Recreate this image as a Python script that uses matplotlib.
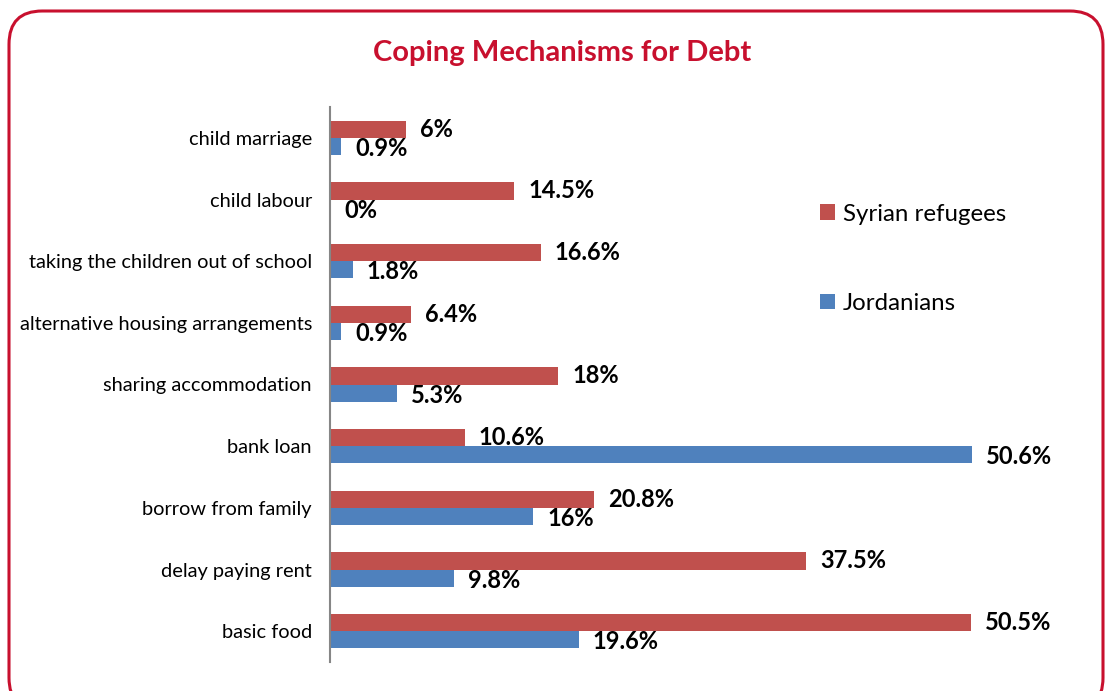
import matplotlib.pyplot as plt
from matplotlib.patches import FancyBboxPatch

plt.rcParams["font.family"] = ["Lato", "DejaVu Sans"]

CATEGORIES = [
    "child marriage",
    "child labour",
    "taking the children out of school",
    "alternative housing arrangements",
    "sharing accommodation",
    "bank loan",
    "borrow from family",
    "delay paying rent",
    "basic food",
]
SYRIAN = [6, 14.5, 16.6, 6.4, 18, 10.6, 20.8, 37.5, 50.5]
JORDANIAN = [0.9, 0, 1.8, 0.9, 5.3, 50.6, 16, 9.8, 19.6]
SYRIAN_LABELS = ["6%", "14.5%", "16.6%", "6.4%", "18%", "10.6%", "20.8%", "37.5%", "50.5%"]
JORDANIAN_LABELS = ["0.9%", "0%", "1.8%", "0.9%", "5.3%", "50.6%", "16%", "9.8%", "19.6%"]

RED = "#C0504D"
BLUE = "#4F81BD"
CRIMSON = "#C8102E"

W, H = 1108, 691
fig = plt.figure(figsize=(W / 100, H / 100), dpi=100)

# rounded frame around the whole chart (bottom runs off the image)
x0, x1 = 9 / W, 1103 / W
y0, y1 = -20 / H, 1 - 11 / H
frame = FancyBboxPatch(
    (x0, y0), x1 - x0, y1 - y0,
    boxstyle="round,pad=0,rounding_size=0.03",
    transform=fig.transFigure, facecolor="none", edgecolor=CRIMSON,
    linewidth=2.2, clip_on=False, mutation_aspect=W / H,
)
fig.patches.append(frame)

ax = fig.add_axes([330 / W, 29 / H, 670 / W, 555 / H])

bar_h = 0.28
ypos = list(range(len(CATEGORIES)))
red_y = [y - bar_h / 2 for y in ypos]
blue_y = [y + bar_h / 2 for y in ypos]

ax.barh(red_y, SYRIAN, height=bar_h, color=RED, label="Syrian refugees")
ax.barh(blue_y, JORDANIAN, height=bar_h, color=BLUE, label="Jordanians")

for y, v, lab in zip(red_y, SYRIAN, SYRIAN_LABELS):
    ax.annotate(lab, (v, y), xytext=(14, 0), textcoords="offset pixels",
                ha="left", va="center", fontsize=17, fontweight="bold")
for y, v, lab in zip(blue_y, JORDANIAN, JORDANIAN_LABELS):
    ax.annotate(lab, (v, y), xytext=(14, -2), textcoords="offset pixels",
                ha="left", va="center", fontsize=17, fontweight="bold")

ax.set_xlim(0, 670 / 12.69)
ax.set_ylim(len(CATEGORIES) - 0.5, -0.5)
ax.set_yticks(ypos)
ax.set_yticklabels(CATEGORIES, fontsize=14.4)
ax.tick_params(axis="y", length=0, pad=13)
ax.set_xticks([])
for side in ["top", "right", "bottom"]:
    ax.spines[side].set_visible(False)
ax.spines["left"].set_color("#868686")
ax.spines["left"].set_linewidth(1.5)

fig.text(562 / W, 1 - 53 / H, "Coping Mechanisms for Debt", ha="center", va="center",
         fontsize=21, fontweight="bold", color=CRIMSON)

fig.legend(loc="upper left", bbox_to_anchor=(810 / W, 1 - 194 / H),
           frameon=False, fontsize=17.3, handlelength=0.62, handleheight=0.62,
           handletextpad=0.35, labelspacing=2.85, borderaxespad=0)

fig.savefig("out.png", dpi=100)
